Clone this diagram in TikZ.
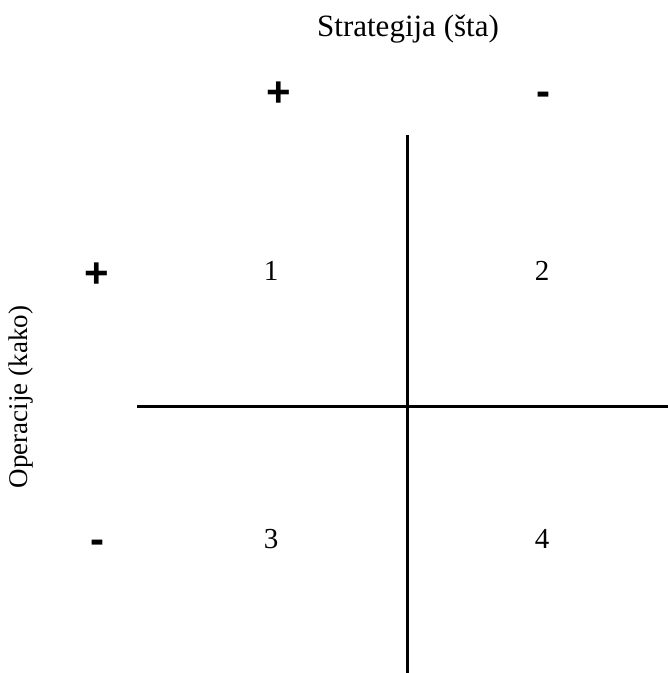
\documentclass[tikz,border=0pt]{standalone}
\usepackage{fontspec}
\setmainfont{Liberation Serif}
\newfontfamily\signfont{Liberation Sans}
\begin{document}
\begin{tikzpicture}[x=1pt,y=-1pt,
  lbl/.style={font=\fontsize{29}{31}\selectfont, inner sep=0pt},
  sgn/.style={font=\signfont\bfseries\fontsize{42}{44}\selectfont, inner sep=0pt, anchor=base},
  axis/.style={line width=3pt}]
\useasboundingbox (0,0) rectangle (668,673);
\node[lbl, font=\fontsize{31}{33}\selectfont] (title) at (408,29) {Strategija (šta)};
\node[lbl, rotate=90, font=\fontsize{27}{29}\selectfont] (side) at (21,397) {Operacije (kako)};
\node[sgn] (cp) at (279,106) {+};
\node[sgn] (cm) at (543,105) {-};
\node[sgn] (rp) at (97,287) {+};
\node[sgn] (rm) at (97,553) {-};
\node[lbl] (q1) at (271,271) {1};
\node[lbl] (q2) at (542,271) {2};
\node[lbl] (q3) at (271,539) {3};
\node[lbl] (q4) at (542,539) {4};
\coordinate (vt) at (407,135);
\coordinate (vb) at (407,673);
\coordinate (hl) at (137,406);
\coordinate (hr) at (668,406);
\draw[axis] (vt) -- (vb);
\draw[axis] (hl) -- (hr);
\end{tikzpicture}
\end{document}
